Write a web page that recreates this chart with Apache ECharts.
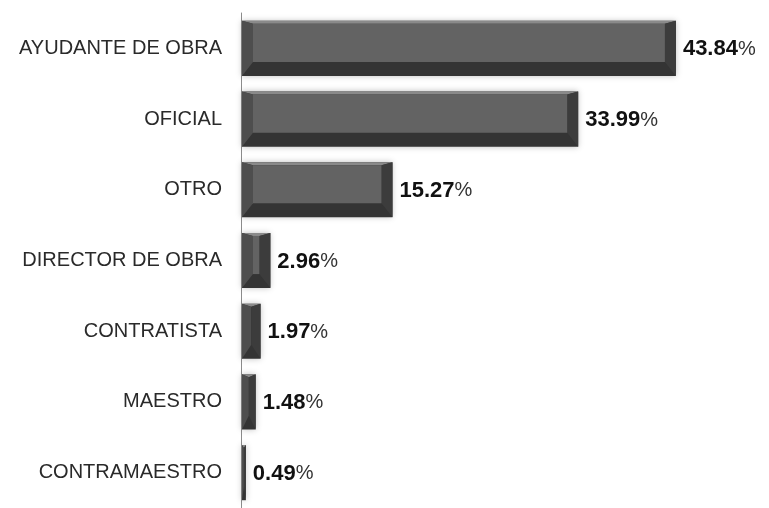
<!DOCTYPE html>
<html>
<head>
<meta charset="utf-8">
<title>Cargo</title>
<script src="https://cdn.jsdelivr.net/npm/echarts@6/dist/echarts.min.js"></script>
<style>
  html, body { margin: 0; padding: 0; background: #fff; }
  #chart { width: 769px; height: 508px; }
</style>
</head>
<body>
<div id="chart"></div>
<script>
var categories = ['AYUDANTE DE OBRA', 'OFICIAL', 'OTRO', 'DIRECTOR DE OBRA', 'CONTRATISTA', 'MAESTRO', 'CONTRAMAESTRO'];
var values = [43.84, 33.99, 15.27, 2.96, 1.97, 1.48, 0.49];

var myChart = echarts.init(document.getElementById('chart'));

// barra con efecto bisel
function renderItem(params, api) {
  var i = api.value(1);
  var start = api.coord([0, i]);
  var end = api.coord([api.value(0), i]);
  var h = api.size([0, 1])[1] * 0.78;
  var x0 = start[0] + 1, x1 = end[0], yc = start[1];
  var y0 = yc - h / 2, y1 = yc + h / 2;
  var bev = Math.min(11, (x1 - x0) / 2);
  var t = 3, b = 14;
  var txt = api.value(0).toFixed(2);
  return {
    type: 'group',
    children: [
      { type: 'rect', shape: { x: x0, y: y0, width: x1 - x0, height: h },
        style: { fill: '#343434', shadowBlur: 6, shadowColor: 'rgba(0,0,0,0.25)' } },
      { type: 'polygon', shape: { points: [[x0, y0], [x1, y0], [x1 - bev, y0 + t], [x0 + bev, y0 + t]] },
        style: { fill: '#8a8a8a' } },
      { type: 'polygon', shape: { points: [[x0, y0], [x0 + bev, y0 + t], [x0 + bev, y1 - b], [x0, y1]] },
        style: { fill: '#4e4e4e' } },
      { type: 'polygon', shape: { points: [[x1, y0], [x1, y1], [x1 - bev, y1 - b], [x1 - bev, y0 + t]] },
        style: { fill: '#3c3c3c' } },
      { type: 'rect', shape: { x: x0 + bev, y: y0 + t, width: Math.max(0, x1 - x0 - 2 * bev), height: h - t - b },
        style: { fill: '#636363' } },
      { type: 'text', x: x1 + 7, y: yc + 1,
        style: {
          text: '{n|' + txt + '}{p|%}',
          verticalAlign: 'middle',
          rich: {
            n: { fontFamily: 'Liberation Sans', fontWeight: 'bold', fontSize: 22, fill: '#111' },
            p: { fontFamily: 'Liberation Sans', fontSize: 20, fill: '#333' }
          }
        } }
    ]
  };
}

var option = {
  animation: false,
  grid: { left: 241, right: 32, top: 13, height: 500.5 },
  xAxis: {
    type: 'value',
    min: 0,
    max: 50,
    show: false
  },
  yAxis: {
    type: 'category',
    inverse: true,
    data: categories,
    axisLine: { lineStyle: { color: '#8c8c8c', width: 1 } },
    axisTick: { length: 4, lineStyle: { color: '#777' } },
    axisLabel: {
      margin: 19,
      fontFamily: 'Liberation Sans',
      fontSize: 20,
      color: '#2a2a2a'
    }
  },
  series: [{
    type: 'custom',
    renderItem: renderItem,
    encode: { x: 0, y: 1 },
    data: values.map(function (v, i) { return [v, i]; })
  }]
};

myChart.setOption(option);
</script>
</body>
</html>
